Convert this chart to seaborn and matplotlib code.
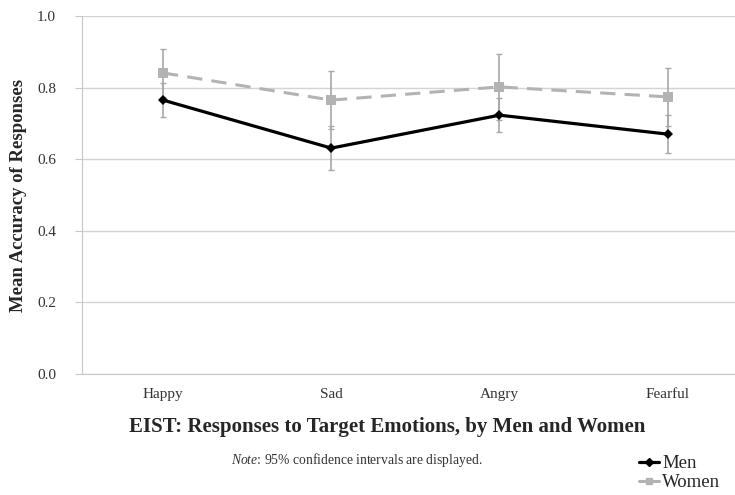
import numpy as np
import pandas as pd
import seaborn as sns
import matplotlib.pyplot as plt
from matplotlib.lines import Line2D

# valores
emotions = ['Happy', 'Sad', 'Angry', 'Fearful']
men = [0.765, 0.631, 0.723, 0.670]
women = [0.841, 0.765, 0.802, 0.774]
men_ci = [0.047, 0.061, 0.047, 0.053]
women_ci = [0.067, 0.081, 0.092, 0.081]

df = pd.DataFrame({
    'Emotion': emotions * 2,
    'Accuracy': men + women,
    'Group': ['Men'] * 4 + ['Women'] * 4,
})

sns.set_style("white")
plt.rcParams['font.family'] = ['Liberation Serif', 'DejaVu Serif']
plt.rcParams['mathtext.fontset'] = 'custom'
plt.rcParams['mathtext.rm'] = 'Liberation Serif'
plt.rcParams['mathtext.it'] = 'Liberation Serif:italic'

fig = plt.figure(figsize=(7.35, 4.95), dpi=100)
ax = fig.add_axes([0.112, 0.2444, 0.888, 0.7233])

x = np.arange(len(emotions))
ax.errorbar(x, women, yerr=women_ci, fmt='none', ecolor='#a8a8a8',
            elinewidth=1.2, capsize=2.5, capthick=1, zorder=2)
ax.errorbar(x, men, yerr=men_ci, fmt='none', ecolor='#a8a8a8',
            elinewidth=1.2, capsize=2.5, capthick=1, zorder=2)

sns.lineplot(data=df[df.Group == 'Women'], x='Emotion', y='Accuracy', ax=ax,
             color='#b3b3b3', linewidth=2.2, linestyle=(0, (5, 3)),
             marker='s', markersize=7, markeredgewidth=0, zorder=3)
sns.lineplot(data=df[df.Group == 'Men'], x='Emotion', y='Accuracy', ax=ax,
             color='black', linewidth=2.3, marker='D', markersize=5,
             markeredgewidth=0, zorder=4)

ax.set_ylim(0, 1.0)
ax.set_xlim(-0.48, 3.4)
ax.set_yticks([0.0, 0.2, 0.4, 0.6, 0.8, 1.0])
ax.set_yticklabels(['0.0', '0.2', '0.4', '0.6', '0.8', '1.0'], fontsize=11, color='#333333')
ax.set_xticks(x)
ax.set_xticklabels(emotions, fontsize=11, color='#333333')
ax.yaxis.grid(True, color='#d4d4d4', linewidth=1)
ax.set_axisbelow(True)
for s in ['top', 'right']:
    ax.spines[s].set_visible(False)
ax.spines['left'].set_color('#c8c8c8')
ax.spines['bottom'].set_color('#c8c8c8')
ax.tick_params(axis='y', length=5, color='#c8c8c8', pad=14, left=True)
ax.tick_params(axis='x', length=0, pad=10)

ax.set_ylabel('Mean Accuracy of Responses', fontsize=13.5, fontweight='bold')
ax.yaxis.set_label_coords(-(82 - 27) / 653, 0.5)
ax.set_xlabel('EIST: Responses to Target Emotions, by Men and Women',
              fontsize=15, fontweight='bold')
ax.xaxis.set_label_coords((387 - 82) / 653, -0.12)

fig.text(357 / 735, 1 - 460 / 495, r'$\it{Note}$: 95% confidence intervals are displayed.',
         fontsize=9.8, ha='center', va='center', color='#333333')

handles = [Line2D([], [], color='black', linewidth=2.3, marker='D', markersize=4),
           Line2D([], [], color='#b3b3b3', linewidth=2.2, marker='s', markersize=5)]
fig.legend(handles, ['Men', 'Women'], loc='upper left', bbox_to_anchor=(0.869, 1 - 455 / 495),
           frameon=False, fontsize=13.5, handlelength=1.1, handletextpad=0.15,
           labelspacing=0.1, borderaxespad=0, borderpad=0)

fig.savefig('out.png', dpi=100)
